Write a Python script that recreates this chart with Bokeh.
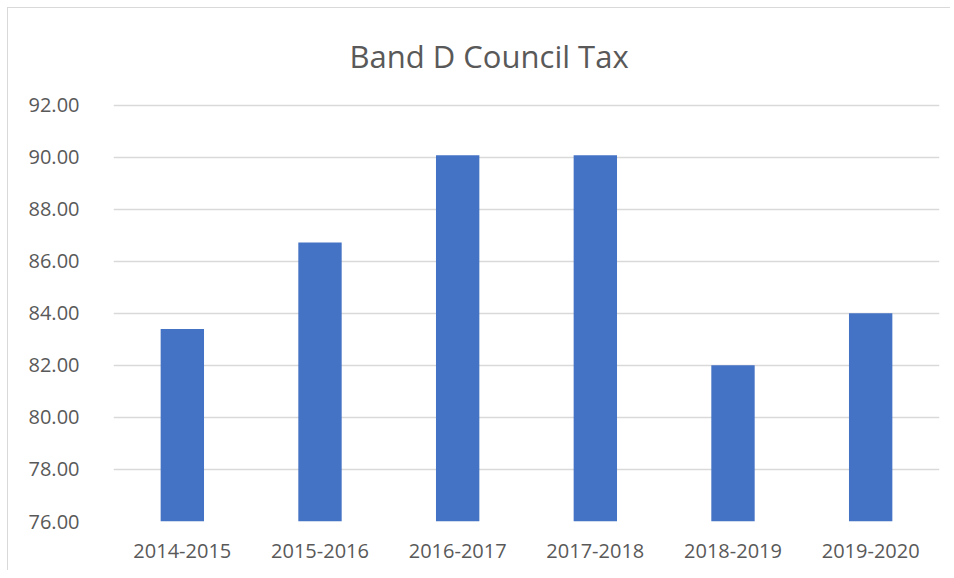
from bokeh.plotting import figure
from bokeh.models import FactorRange, Range1d, FixedTicker, PrintfTickFormatter
from bokeh.embed import file_html
from bokeh.resources import INLINE

title_text = "Band D Council Tax"
years = ["2014-2015", "2015-2016", "2016-2017", "2017-2018", "2018-2019", "2019-2020"]
values = [83.40, 86.72, 90.07, 90.07, 82.00, 84.00]
y_ticks = [76, 78, 80, 82, 84, 86, 88, 90, 92]

FONT = "Open Sans"
TXT = "#595959"

p = figure(width=943, height=563, x_range=FactorRange(*years, range_padding=0),
           y_range=Range1d(76, 92.1), output_backend="svg", toolbar_location=None,
           min_border_left=105, min_border_right=12, min_border_top=94, min_border_bottom=50)
p.margin = (7, 0, 0, 7)
p.styles = {"border-left": "1px solid #d9d9d9", "border-top": "1px solid #d9d9d9"}
p.outline_line_color = None
p.background_fill_color = "white"
p.border_fill_color = "white"

p.vbar(x=years, top=values, bottom=76, width=0.315, fill_color="#4472C4", line_color=None)

p.yaxis.ticker = FixedTicker(ticks=y_ticks)
p.yaxis.formatter = PrintfTickFormatter(format="%.2f")
for ax in (p.xaxis, p.yaxis):
    ax.axis_line_color = None
    ax.major_tick_line_color = None
    ax.minor_tick_line_color = None
    ax.major_label_text_font = FONT
    ax.major_label_text_font_size = "20px"
    ax.major_label_text_color = TXT
p.yaxis.major_label_standoff = 28
p.xaxis.major_label_standoff = 16

p.xgrid.grid_line_color = None
p.ygrid.ticker = FixedTicker(ticks=y_ticks)
p.ygrid.grid_line_color = "#d9d9d9"
p.ygrid.grid_line_width = 1.3

p.title.text = title_text
p.title.align = "left"
p.title.vertical_align = "top"
p.title.offset = 236
p.title.text_font = FONT
p.title.text_font_size = "31px"
p.title.text_font_style = "normal"
p.title.text_color = TXT
p.title.standoff = 48

open("out.html", "w").write(file_html(p, INLINE))
